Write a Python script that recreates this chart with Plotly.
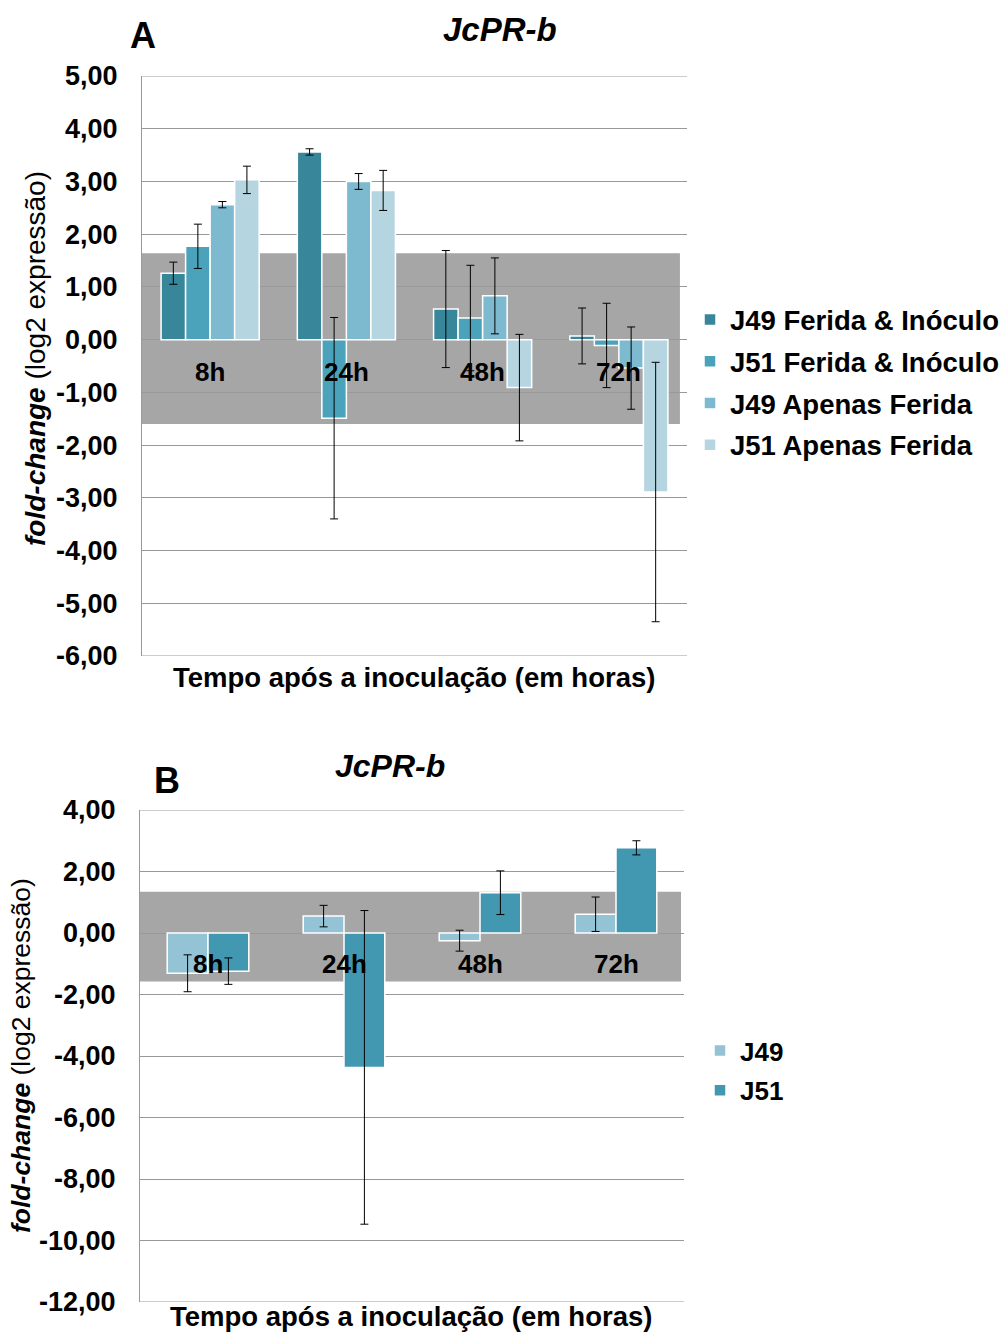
import plotly.graph_objects as go

W, H = 1001, 1334

# ---------------- Data: panel A ----------------
categories = ["8h", "24h", "48h", "72h"]
series_A = ["J49 Ferida & Inóculo", "J51 Ferida & Inóculo", "J49 Apenas Ferida", "J51 Apenas Ferida"]
j49_fi = [1.26, 3.56, 0.58, 0.07]
j49_fi_err = [0.21, 0.06, 1.11, 0.53]
j51_fi = [1.77, -1.49, 0.41, -0.11]
j51_fi_err = [0.42, 1.91, 1.00, 0.80]
j49_af = [2.56, 3.00, 0.83, -0.54]
j49_af_err = [0.06, 0.15, 0.72, 0.78]
j51_af = [3.03, 2.83, -0.91, -2.89]
j51_af_err = [0.26, 0.38, 1.01, 2.46]
band_A = [-1.60, 1.64]
ticks_A = [5, 4, 3, 2, 1, 0, -1, -2, -3, -4, -5, -6]
ticktext_A = ["5,00", "4,00", "3,00", "2,00", "1,00", "0,00", "-1,00", "-2,00",
              "-3,00", "-4,00", "-5,00", "-6,00"]

# ---------------- Data: panel B ----------------
series_B = ["J49", "J51"]
b_j49 = [-1.31, 0.55, -0.25, 0.61]
b_j49_err = [0.60, 0.35, 0.34, 0.56]
b_j51 = [-1.24, -4.37, 1.31, 2.77]
b_j51_err = [0.43, 5.10, 0.71, 0.23]
band_B = [-1.58, 1.34]
ticks_B = [4, 2, 0, -2, -4, -6, -8, -10, -12]
ticktext_B = ["4,00", "2,00", "0,00", "-2,00", "-4,00", "-6,00", "-8,00", "-10,00", "-12,00"]

title_text = "JcPR-b"
xtitle = "Tempo após a inoculação (em horas)"
ytitle = "<b><i>fold-change</i></b> (log2 expressão)"

# ---------------- Styles ----------------
FONT = "Liberation Sans, Arial, sans-serif"
colors_A = ["#37869A", "#4BA3BB", "#7DB9CF", "#B5D5E1"]
colors_B = ["#93C3D5", "#4298B0"]
GRID = "#999999"
BAND = "#A6A6A6"

fig = go.Figure()

vals_A = [j49_fi, j51_fi, j49_af, j51_af]
errs_A = [j49_fi_err, j51_fi_err, j49_af_err, j51_af_err]
wA = 0.18
for i, (name, v, e, c) in enumerate(zip(series_A, vals_A, errs_A, colors_A)):
    fig.add_trace(go.Bar(
        x=categories, y=v, name=name, xaxis="x", yaxis="y",
        width=wA, offset=-2 * wA + i * wA,
        marker=dict(color=c, line=dict(color="white", width=1.5)),
        error_y=dict(type="data", array=e, visible=True, color="black", thickness=1, width=4),
        legend="legend", legendgroup="a%d" % i,
    ))

vals_B = [b_j49, b_j51]
errs_B = [b_j49_err, b_j51_err]
wB = 0.30
for i, (name, v, e, c) in enumerate(zip(series_B, vals_B, errs_B, colors_B)):
    fig.add_trace(go.Bar(
        x=categories, y=v, name=name, xaxis="x2", yaxis="y2",
        width=wB, offset=-wB + i * wB,
        marker=dict(color=c, line=dict(color="white", width=1.5)),
        error_y=dict(type="data", array=e, visible=True, color="black", thickness=1, width=4),
        legend="legend2", legendgroup="b%d" % i,
    ))

# shaded bands
fig.add_shape(type="rect", xref="x domain", yref="y", x0=0, x1=0.987,
              y0=band_A[0], y1=band_A[1], fillcolor=BAND, line=dict(width=0), layer="below")
fig.add_shape(type="rect", xref="x2 domain", yref="y2", x0=0, x1=0.9945,
              y0=band_B[0], y1=band_B[1], fillcolor=BAND, line=dict(width=0), layer="below")
# boundary gridlines (top / bottom of range)
for yv in (ticks_A[0], ticks_A[-1]):
    fig.add_shape(type="line", xref="x domain", yref="y", x0=0, x1=1, y0=yv, y1=yv,
                  line=dict(color=GRID, width=1), layer="below")
for yv in (ticks_B[0], ticks_B[-1]):
    fig.add_shape(type="line", xref="x2 domain", yref="y2", x0=0, x1=1, y0=yv, y1=yv,
                  line=dict(color=GRID, width=1), layer="below")

tickfont = dict(family=FONT, size=27, color="black", weight="bold")
yaxis_common = dict(showgrid=True, gridcolor=GRID, gridwidth=1, zeroline=False,
                    showline=True, linecolor=GRID, linewidth=1, ticks="",
                    tickfont=tickfont, ticklabelstandoff=18, fixedrange=True,
                    automargin=False)
xaxis_common = dict(showticklabels=False, showgrid=False, zeroline=False, showline=False,
                    range=[-0.5, 3.5], ticks="", fixedrange=True, automargin=False)

legfont = dict(family=FONT, size=27.5, color="black", weight="bold")
fig.update_layout(
    width=W, height=H, margin=dict(l=0, r=0, t=0, b=0, autoexpand=False),
    paper_bgcolor="white", plot_bgcolor="white",
    barmode="overlay", showlegend=True,
    font=dict(family=FONT, color="black"),
    xaxis=dict(domain=[142 / W, 687 / W], anchor="y", **xaxis_common),
    yaxis=dict(domain=[1 - 656 / H, 1 - 76 / H], anchor="x", range=[-6, 5],
               tickvals=ticks_A, ticktext=ticktext_A, **yaxis_common),
    xaxis2=dict(domain=[140 / W, 684 / W], anchor="y2", **xaxis_common),
    yaxis2=dict(domain=[1 - 1302 / H, 1 - 810 / H], anchor="x2", range=[-12, 4],
                tickvals=ticks_B, ticktext=ticktext_B, **yaxis_common),
    legend=dict(x=690 / W, y=1 - 295 / H, xanchor="left", yanchor="top",
                font=legfont, bgcolor="rgba(0,0,0,0)", tracegroupgap=3, itemclick=False),
    legend2=dict(x=700 / W, y=1 - 1027 / H, xanchor="left", yanchor="top",
                 font=dict(family=FONT, size=26, color="black", weight="bold"),
                 bgcolor="rgba(0,0,0,0)", tracegroupgap=3, itemclick=False),
)

ann = []
def pa(text, x, y, size, angle=0, **kw):
    ann.append(dict(text=text, x=x / W, y=1 - y / H, xref="paper", yref="paper",
                    showarrow=False, xanchor="center", yanchor="middle",
                    textangle=angle, font=dict(family=FONT, size=size, color="black", **kw)))

pa("A", 143, 35, 36, weight="bold")
pa("<b><i>" + title_text + "</i></b>", 500, 30, 33)
pa(xtitle, 414, 677, 27.5, weight="bold")
pa(ytitle, 35, 359, 28, angle=-90)
pa("B", 167, 780, 36, weight="bold")
pa("<b><i>" + title_text + "</i></b>", 390, 766, 32)
pa(xtitle, 411, 1316, 27.5, weight="bold")
pa(ytitle, 21, 1056, 26.5, angle=-90)

for c in categories:
    ann.append(dict(text="<b>" + c + "</b>", x=c, y=-0.62, xref="x", yref="y", showarrow=False,
                    font=dict(family=FONT, size=26, color="black")))
    ann.append(dict(text="<b>" + c + "</b>", x=c, y=-1.01, xref="x2", yref="y2", showarrow=False,
                    font=dict(family=FONT, size=26, color="black")))

fig.update_layout(annotations=ann)
fig.write_html("out.html")
